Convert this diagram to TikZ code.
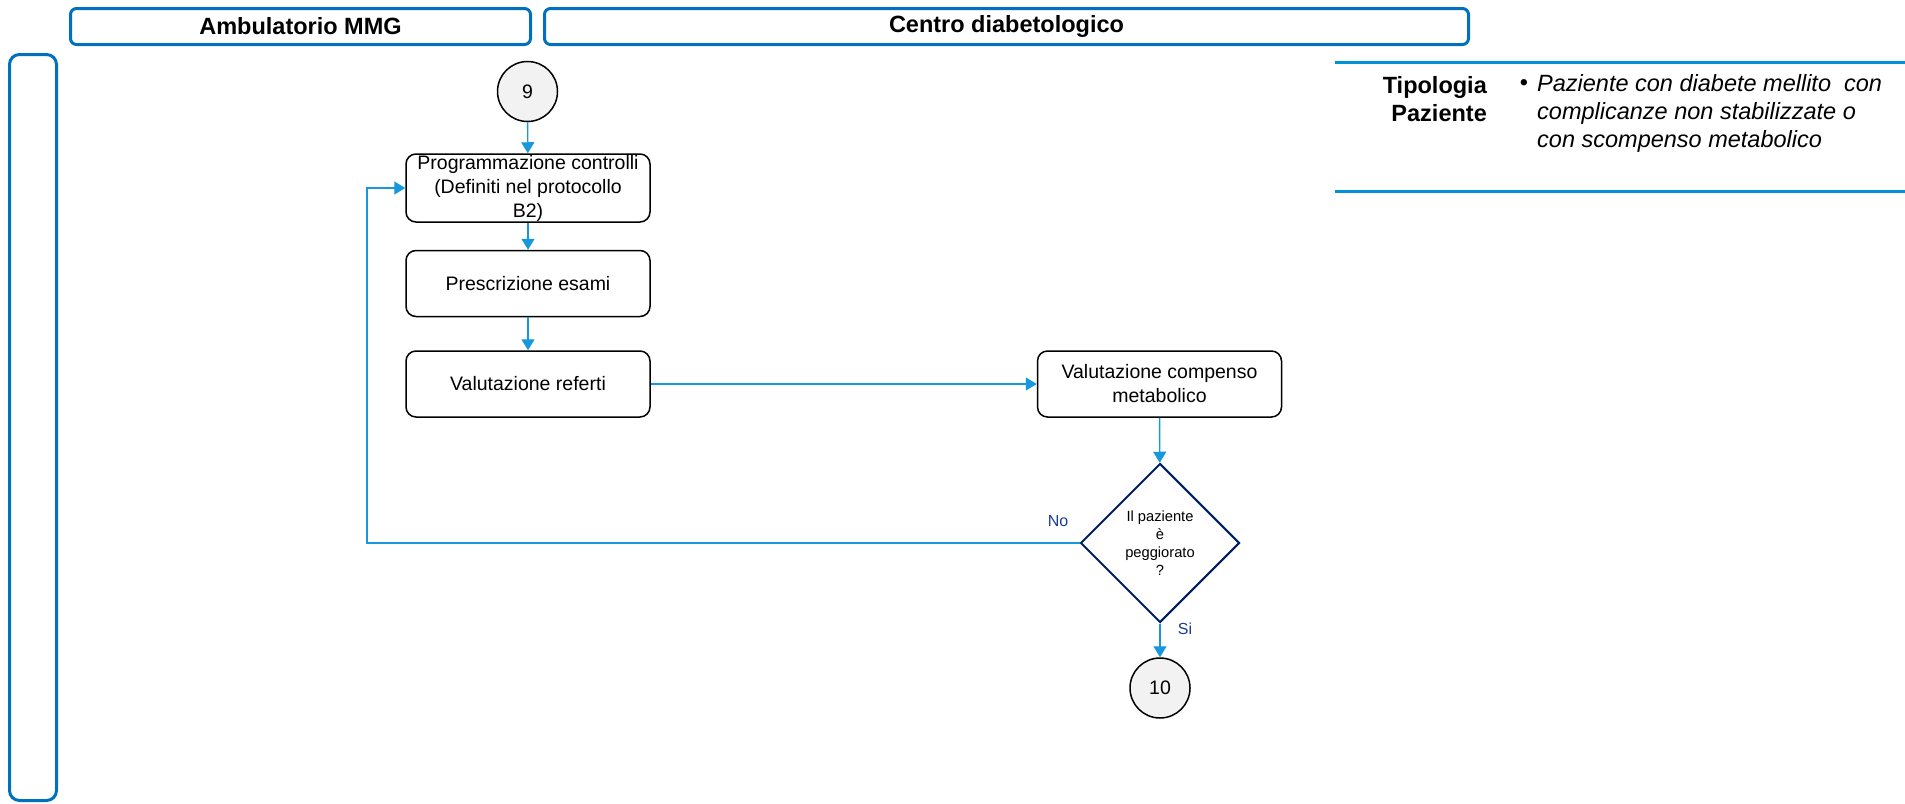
\documentclass[tikz,border=0pt]{standalone}
\usepackage{fontspec}
\setmainfont{Liberation Sans}
\usetikzlibrary{shapes.geometric,arrows.meta}

\definecolor{laneblue}{RGB}{0,112,192}
\definecolor{panelblue}{RGB}{0,146,214}
\definecolor{flowblue}{RGB}{24,152,220}
\definecolor{decnavy}{RGB}{0,32,96}
\definecolor{labelblue}{RGB}{25,60,150}
\definecolor{connfill}{RGB}{242,242,242}

\tikzset{
  header/.style={draw=laneblue, line width=3pt, rounded corners=6pt, inner sep=0pt,
    font=\fontsize{23.5}{28}\selectfont\bfseries},
  lane/.style={draw=laneblue, line width=3pt, rounded corners=10pt, inner sep=0pt},
  stepbox/.style={draw=black, line width=1.5pt, rounded corners=10pt, inner sep=0pt,
    minimum width=244pt, minimum height=66pt, align=center,
    font=\fontsize{19.5}{24}\selectfont},
  connector/.style={circle, draw=black, line width=1.5pt, fill=connfill,
    minimum size=60pt, inner sep=0pt, font=\fontsize{19.5}{24}\selectfont},
  decision/.style={diamond, draw=decnavy, line width=2pt, aspect=1, inner sep=0pt,
    minimum width=159pt, minimum height=159pt, align=center,
    font=\fontsize{14.7}{18}\selectfont},
  flow/.style={draw=flowblue, line width=1.4pt,
    -{Triangle[length=11pt,width=13pt]}},
  branch/.style={text=labelblue, inner sep=0pt, font=\fontsize{16}{19}\selectfont},
  panelrule/.style={draw=panelblue, line width=3pt}
}

\begin{document}
\begin{tikzpicture}[x=1pt,y=-1pt]
\useasboundingbox (0,0) rectangle (1905,803);

% lane headers and side band
\node[header, minimum width=460pt, minimum height=36pt] (hamb) at (300.5,26.5) {Ambulatorio MMG};
\node[header, minimum width=924pt, minimum height=36pt] (hcd) at (1006.5,26.5) {Centro diabetologico};
\node[lane, minimum width=47pt, minimum height=746pt] (side) at (33,427.5) {};

% flow steps
\node[connector] (c9) at (527.5,91.5) {9};
\node[stepbox, minimum height=68pt] (prog) at (528,188) {Programmazione controlli\\(Definiti nel protocollo\\B2)};
\node[stepbox] (presc) at (528,283.5) {Prescrizione esami};
\node[stepbox] (valref) at (528,384) {Valutazione referti};
\node[stepbox] (comp) at (1159.5,384) {Valutazione compenso\\metabolico};
\node[decision] (dec) at (1160,543) {Il paziente\\è\\peggiorato\\?};
\node[connector] (c10) at (1160,688) {10};

% branch labels
\node[branch] (lno) at (1058,521) {No};
\node[branch] (lsi) at (1185,629) {Si};

% connectors
\coordinate (loopx) at (367,0);
\draw[flow] (c9) -- (prog);
\draw[flow] (prog) -- (presc);
\draw[flow] (presc) -- (valref);
\draw[flow] (valref.east) -- (comp.west);
\draw[flow] (comp) -- (dec);
\draw[flow] (dec) -- (c10);
\draw[flow] (dec.west) -- (dec.west -| loopx) |- (prog.west);

% patient type panel
\draw[panelrule] (1335,62) -- (1905,62);
\draw[panelrule] (1335,191) -- (1905,191);
\node[anchor=east, align=right, inner sep=0pt, font=\fontsize{23.5}{28}\selectfont\bfseries]
  (tipo) at (1487,99) {Tipologia\\Paziente};
\node[inner sep=0pt, font=\fontsize{23.5}{28}\selectfont] (bul) at (1524,85) {•};
\node[anchor=west, align=left, inner sep=0pt, font=\fontsize{23.5}{28}\selectfont\itshape]
  (desc) at (1537,113) {Paziente con diabete mellito~ con\\complicanze non stabilizzate o\\con scompenso metabolico};
\end{tikzpicture}
\end{document}
